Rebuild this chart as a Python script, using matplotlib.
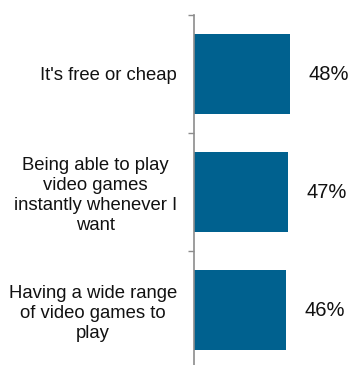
import matplotlib
matplotlib.use("Agg")
from matplotlib import pyplot as plt
import numpy as np

reasons = [
    "It's free or cheap",
    "Being able to play\nvideo games\ninstantly whenever I\nwant",
    "Having a wide range\nof video games to\nplay",
]
shares = [48, 47, 46]

bar_color = "#00618F"
axis_color = "#8C8C8C"

plt.rcParams["font.family"] = ["Liberation Sans", "DejaVu Sans"]

fig = plt.figure(figsize=(3.48, 3.65), dpi=100)
# axes spans past the bottom edge, so the last tick falls off the canvas
ax = fig.add_axes([194 / 348, (365 - 369) / 365, 154 / 348, 354 / 365])

pos = np.arange(len(reasons))
ax.barh(pos, shares, height=0.67, color=bar_color)
ax.set_xlim(0, 77)
ax.set_ylim(len(reasons) - 0.5, -0.5)

for y, v in zip(pos, shares):
    ax.annotate(f"{v}%", (v, y), xytext=(13.2, 0), textcoords="offset points",
                ha="left", va="center", fontsize=14.5, color="#111111")

# ticks sit on the category borders, labels in the middle
ax.set_yticks(np.arange(len(reasons) + 1) - 0.5)
ax.set_yticklabels([])
ax.tick_params(axis="y", which="major", direction="out", length=4.3,
               width=1, color=axis_color)
ax.set_yticks(pos, minor=True)
ax.set_yticklabels(reasons, minor=True, fontsize=13.3, color="#111111",
                   ha="right", multialignment="center", linespacing=1.23)
ax.tick_params(axis="y", which="minor", length=0, pad=12.2)

ax.set_xticks([])
for side in ["top", "right", "bottom"]:
    ax.spines[side].set_visible(False)
ax.spines["left"].set_color(axis_color)
ax.spines["left"].set_linewidth(1.2)

fig.savefig("out.png", dpi=100)
